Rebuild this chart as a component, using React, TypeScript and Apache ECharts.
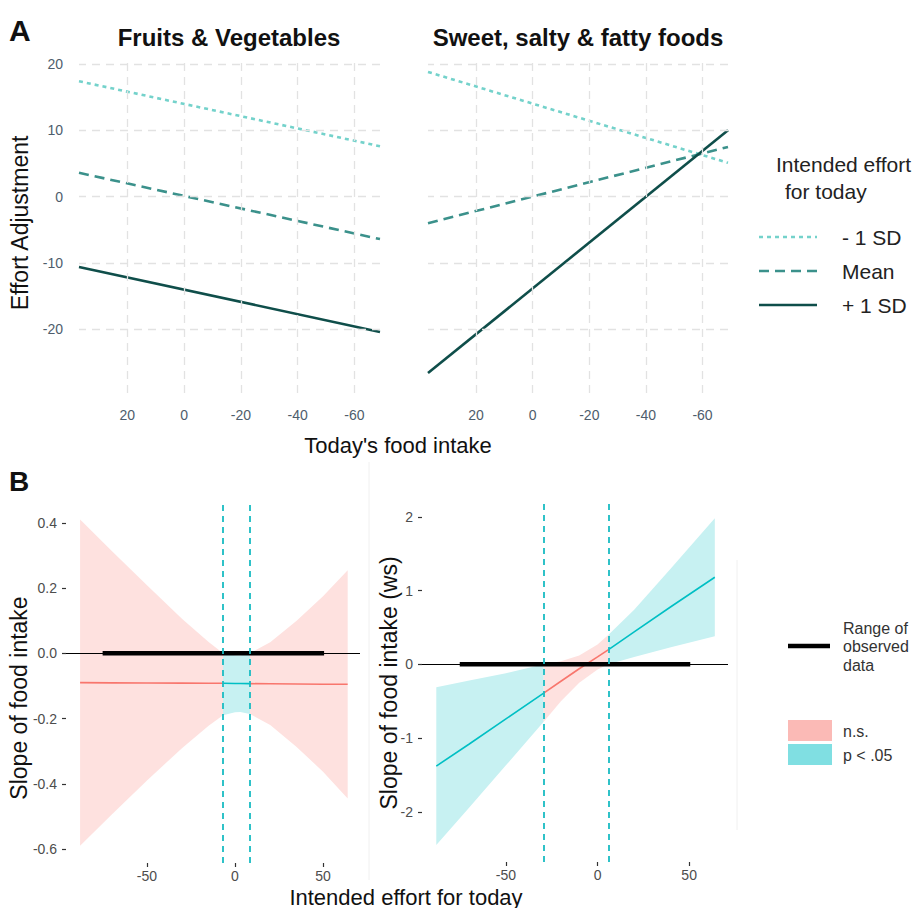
import React, { useEffect, useRef } from "react";
import * as echarts from "echarts";

const FONT = "'Liberation Sans', Arial, sans-serif";

// ---------- Panel A data ----------
const intakeEnds = [37, -69];
const fvMinusSD = [17.4, 7.6];
const fvMean = [3.6, -6.4];
const fvPlusSD = [-10.6, -20.4];
const sfMinusSD = [18.8, 5.1];
const sfMean = [-4.0, 7.5];
const sfPlusSD = [-26.6, 10.0];
const intakeTicks = [20, 0, -20, -40, -60];
const adjustTicks = [20, 10, 0, -10, -20];
const groupNames = ["- 1 SD", "Mean", "+ 1 SD"];

// ---------- Panel B data ----------
const effortTicks = [-50, 0, 50];
const fvSlopeTicks = [0.4, 0.2, 0, -0.2, -0.4, -0.6];
const sfSlopeTicks = [2, 1, 0, -1, -2];

const fvEffort = [-88, -70, -50, -30, -15, -6.8, 0, 3, 8.5, 20, 35, 50, 64];
const fvEst = [-0.09, -0.0905, -0.091, -0.0915, -0.092, -0.092, -0.0925, -0.0925, -0.093, -0.0935, -0.094, -0.095, -0.095];
const fvLower = [-0.59, -0.494, -0.39, -0.29, -0.222, -0.19, -0.181, -0.18, -0.186, -0.22, -0.287, -0.363, -0.445];
const fvUpper = [0.41, 0.314, 0.209, 0.105, 0.035, 0.0, -0.006, -0.007, 0.0, 0.034, 0.1, 0.175, 0.255];
const fvSigBounds = [-6.8, 8.5];

const sfEffort = [-88, -70, -50, -29.4, -20, -10, 0, 6, 20, 40, 64];
const sfEst = [-1.38, -1.08, -0.74, -0.39, -0.23, -0.06, 0.1, 0.2, 0.44, 0.78, 1.18];
const sfLower = [-2.45, -1.94, -1.37, -0.78, -0.5, -0.25, -0.07, 0.0, 0.1, 0.23, 0.38];
const sfUpper = [-0.31, -0.22, -0.12, 0.0, 0.04, 0.12, 0.27, 0.4, 0.74, 1.3, 1.98];
const sfSigBounds = [-29.4, 6.0];

const observedRange = [-75.2, 50.6];

const RED = "#F8766D";
const CYAN = "#00BFC4";
const RED_BAND = "#fee1df";
const CYAN_BAND = "#c7f1f2";
const A_COLORS = ["#74d2cb", "#3b918b", "#0f4e4a"];
const A_DASH: any[] = [[4, 4], [10, 6], "solid"];

function inRange(x: number, a: number, b: number) {
  return x >= a - 1e-9 && x <= b + 1e-9;
}

function bandSeries(xs: number[], lo: number[], hi: number[], a: number, b: number, color: string, idx: number) {
  const data = xs.map((x, i) => [x, lo[i], hi[i]]).filter((d) => inRange(d[0], a, b));
  return {
    type: "custom",
    xAxisIndex: idx,
    yAxisIndex: idx,
    silent: true,
    z: 1,
    data,
    encode: { x: 0, y: [1, 2] },
    renderItem: (params: any, api: any) => {
      if (params.dataIndex !== 0) return null;
      const top = data.map((d) => api.coord([d[0], d[2]]));
      const bot = data.slice().reverse().map((d) => api.coord([d[0], d[1]]));
      return { type: "polygon", shape: { points: top.concat(bot) }, style: { fill: color } };
    },
  };
}

function estSeries(xs: number[], ys: number[], a: number, b: number, color: string, idx: number) {
  return {
    type: "line",
    xAxisIndex: idx,
    yAxisIndex: idx,
    data: xs.map((x, i) => [x, ys[i]]).filter((d) => inRange(d[0], a, b)),
    showSymbol: false,
    symbol: "none",
    silent: true,
    z: 3,
    lineStyle: { color, width: 1.6 },
  };
}

function bSeries(idx: number, xs: number[], est: number[], lo: number[], hi: number[], bounds: number[], sigInside: boolean) {
  const segs = [
    [-1000, bounds[0]],
    [bounds[0], bounds[1]],
    [bounds[1], 1000],
  ];
  const out: any[] = [];
  segs.forEach((s, k) => {
    const inside = k === 1;
    const sig = inside ? sigInside : !sigInside;
    out.push(bandSeries(xs, lo, hi, s[0], s[1], sig ? CYAN_BAND : RED_BAND, idx));
    out.push(estSeries(xs, est, s[0], s[1], sig ? CYAN : RED, idx));
  });
  out.push({
    type: "line",
    xAxisIndex: idx,
    yAxisIndex: idx,
    data: [[observedRange[0], 0], [observedRange[1], 0]],
    showSymbol: false,
    symbol: "none",
    silent: true,
    z: 4,
    lineStyle: { color: "#000", width: 4.5 },
    markLine: {
      silent: true,
      symbol: ["none", "none"],
      label: { show: false },
      data: [
        { yAxis: 0, lineStyle: { color: "#000", width: 1.2, type: "solid" } },
        { xAxis: bounds[0], lineStyle: { color: "#19bcc3", width: 1.8, type: [6, 5] } },
        { xAxis: bounds[1], lineStyle: { color: "#19bcc3", width: 1.8, type: [6, 5] } },
      ],
    },
  });
  return out;
}

function aSeries(idx: number, groups: number[][]) {
  const out: any[] = [];
  out.push({
    type: "line",
    xAxisIndex: idx,
    yAxisIndex: idx,
    data: [[intakeEnds[0], groups[0][0]]],
    showSymbol: false,
    symbol: "none",
    silent: true,
    z: 0,
    lineStyle: { opacity: 0 },
    markLine: {
      silent: true,
      symbol: ["none", "none"],
      label: { show: false },
      lineStyle: { color: "#e2e2e2", width: 1.3, type: [8, 6] },
      data: [...intakeTicks.map((v) => ({ xAxis: v })), ...adjustTicks.map((v) => ({ yAxis: v }))],
    },
  });
  groups.forEach((g, k) => {
    out.push({
      type: "line",
      name: groupNames[k],
      xAxisIndex: idx,
      yAxisIndex: idx,
      data: intakeEnds.map((x, i) => [x, g[i]]),
      showSymbol: false,
      symbol: "none",
      silent: true,
      z: 3,
      lineStyle: { color: A_COLORS[k], width: 2.6, type: A_DASH[k] },
    });
  });
  return out;
}

const aLabelColor = "#4e5d6c";
const bLabelColor = "#4d4d4d";
const tickStyle = { color: "#333", width: 1.2 };

export default function App() {
  const ref = useRef<HTMLDivElement>(null);
  useEffect(() => {
    if (!ref.current) return;
    const chart = echarts.init(ref.current, undefined, { renderer: "svg" });

    const xA = (gi: number) => ({
      type: "value",
      gridIndex: gi,
      min: -69,
      max: 37,
      inverse: true,
      axisLine: { show: false, onZero: false },
      axisTick: { show: false },
      splitLine: { show: false },
      axisLabel: { customValues: intakeTicks, color: aLabelColor, fontSize: 14, fontFamily: FONT, margin: 15 },
    });
    const xB = (gi: number, min: number, max: number) => ({
      type: "value",
      gridIndex: gi,
      min,
      max,
      axisLine: { show: false, onZero: false },
      axisTick: { show: true, customValues: effortTicks, length: 4, lineStyle: tickStyle },
      splitLine: { show: false },
      axisLabel: { customValues: effortTicks, color: bLabelColor, fontSize: 14, fontFamily: FONT, margin: 6 },
    });

    const option: any = {
      animation: false,
      backgroundColor: "#ffffff",
      textStyle: { fontFamily: FONT },
      grid: [
        { left: 79, top: 60, width: 301, height: 333 },
        { left: 428, top: 60, width: 300, height: 333 },
        { left: 66, top: 502, width: 294, height: 361 },
        { left: 422, top: 502, width: 306, height: 360 },
      ],
      xAxis: [xA(0), xA(1), xB(2, -96, 71), xB(3, -95.8, 71.2)],
      yAxis: [
        {
          type: "value",
          gridIndex: 0,
          min: -29.6,
          max: 20.6,
          axisLine: { show: false, onZero: false },
          axisTick: { show: false },
          splitLine: { show: false },
          axisLabel: { customValues: adjustTicks, color: aLabelColor, fontSize: 14, fontFamily: FONT, margin: 16 },
        },
        {
          type: "value",
          gridIndex: 1,
          min: -29.6,
          max: 20.6,
          axisLine: { show: false, onZero: false },
          axisTick: { show: false },
          splitLine: { show: false },
          axisLabel: { show: false },
        },
        {
          type: "value",
          gridIndex: 2,
          min: -0.643,
          max: 0.464,
          axisLine: { show: false, onZero: false },
          axisTick: { show: true, customValues: fvSlopeTicks, length: 4, lineStyle: tickStyle },
          splitLine: { show: false },
          axisLabel: {
            customValues: fvSlopeTicks,
            color: bLabelColor,
            fontSize: 14,
            fontFamily: FONT,
            margin: 9,
            formatter: (v: number) => v.toFixed(1),
          },
        },
        {
          type: "value",
          gridIndex: 3,
          min: -2.68,
          max: 2.2,
          axisLine: { show: false, onZero: false },
          axisTick: { show: true, customValues: sfSlopeTicks, length: 4, lineStyle: tickStyle },
          splitLine: { show: false },
          axisLabel: { customValues: sfSlopeTicks, color: bLabelColor, fontSize: 14, fontFamily: FONT, margin: 9 },
        },
      ],
      series: [
        ...aSeries(0, [fvMinusSD, fvMean, fvPlusSD]),
        ...aSeries(1, [sfMinusSD, sfMean, sfPlusSD]),
        ...bSeries(2, fvEffort, fvEst, fvLower, fvUpper, fvSigBounds, true),
        ...bSeries(3, sfEffort, sfEst, sfLower, sfUpper, sfSigBounds, false),
      ],
      graphic: [
        { type: "line", shape: { x1: 369, y1: 462, x2: 369, y2: 880 }, style: { stroke: "#f0f0f0", lineWidth: 1 }, z: -1 },
        { type: "line", shape: { x1: 737, y1: 560, x2: 737, y2: 830 }, style: { stroke: "#f0f0f0", lineWidth: 1 }, z: -1 },
        { type: "text", x: 9, y: 30, style: { text: "A", fontSize: 30, fontWeight: "bold", fontFamily: FONT, fill: "#111", verticalAlign: "middle" } },
        { type: "text", x: 9, y: 481, style: { text: "B", fontSize: 28, fontWeight: "bold", fontFamily: FONT, fill: "#111", verticalAlign: "middle" } },
        { type: "text", x: 229, y: 37, style: { text: "Fruits & Vegetables", fontSize: 24, fontWeight: "bold", fontFamily: FONT, fill: "#111", align: "center", verticalAlign: "middle" } },
        { type: "text", x: 578, y: 37, style: { text: "Sweet, salty & fatty foods", fontSize: 24, fontWeight: "bold", fontFamily: FONT, fill: "#111", align: "center", verticalAlign: "middle" } },
        { type: "text", x: 20, y: 223, rotation: Math.PI / 2, style: { text: "Effort Adjustment", fontSize: 23, fontFamily: FONT, fill: "#111", align: "center", verticalAlign: "middle" } },
        { type: "text", x: 398, y: 445, style: { text: "Today's food intake", fontSize: 22, fontFamily: FONT, fill: "#111", align: "center", verticalAlign: "middle" } },
        { type: "text", x: 19, y: 698, rotation: Math.PI / 2, style: { text: "Slope of food intake", fontSize: 23, fontFamily: FONT, fill: "#111", align: "center", verticalAlign: "middle" } },
        { type: "text", x: 389, y: 683, rotation: Math.PI / 2, style: { text: "Slope of food intake (ws)", fontSize: 23, fontFamily: FONT, fill: "#111", align: "center", verticalAlign: "middle" } },
        { type: "text", x: 406, y: 897, style: { text: "Intended effort for today", fontSize: 22, fontFamily: FONT, fill: "#111", align: "center", verticalAlign: "middle" } },
        { type: "text", x: 776, y: 164, style: { text: "Intended effort", fontSize: 21, fontFamily: FONT, fill: "#222", verticalAlign: "middle" } },
        { type: "text", x: 785, y: 191, style: { text: "for today", fontSize: 21, fontFamily: FONT, fill: "#222", verticalAlign: "middle" } },
        ...groupNames.flatMap((name, k) => [
          {
            type: "line",
            shape: { x1: 759, y1: 237 + k * 34, x2: 817, y2: 237 + k * 34 },
            style: { stroke: A_COLORS[k], lineWidth: 2.6, lineDash: k === 2 ? null : A_DASH[k] },
          },
          { type: "text", x: 842, y: 237 + k * 34, style: { text: name, fontSize: 21, fontFamily: FONT, fill: "#222", verticalAlign: "middle" } },
        ]),
        { type: "line", shape: { x1: 788, y1: 646, x2: 830, y2: 646 }, style: { stroke: "#000", lineWidth: 4.5 } },
        { type: "text", x: 843, y: 628, style: { text: "Range of", fontSize: 16, fontFamily: FONT, fill: "#333", verticalAlign: "middle" } },
        { type: "text", x: 843, y: 646, style: { text: "observed", fontSize: 16, fontFamily: FONT, fill: "#333", verticalAlign: "middle" } },
        { type: "text", x: 843, y: 665, style: { text: "data", fontSize: 16, fontFamily: FONT, fill: "#333", verticalAlign: "middle" } },
        { type: "rect", shape: { x: 788, y: 720, width: 44, height: 21 }, style: { fill: "#fbbab6" } },
        { type: "rect", shape: { x: 788, y: 744, width: 44, height: 21 }, style: { fill: "#80dfe2" } },
        { type: "text", x: 843, y: 731, style: { text: "n.s.", fontSize: 16, fontFamily: FONT, fill: "#333", verticalAlign: "middle" } },
        { type: "text", x: 843, y: 755, style: { text: "p < .05", fontSize: 16, fontFamily: FONT, fill: "#333", verticalAlign: "middle" } },
      ],
    };
    chart.setOption(option);
    return () => chart.dispose();
  }, []);
  return (
    <div
      ref={ref}
      style={{ position: "absolute", left: 0, top: 0, width: 919, height: 908, background: "#fff" }}
    />
  );
}
